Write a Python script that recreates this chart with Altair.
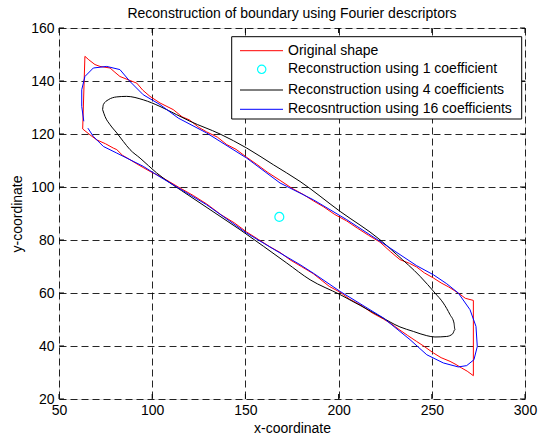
import altair as alt
import pandas as pd

title_text = "Reconstruction of boundary using Fourier descriptors"
x_title = "x-coordinate"
y_title = "y-coordinate"
x_ticks = [50, 100, 150, 200, 250, 300]
y_ticks = [20, 40, 60, 80, 100, 120, 140, 160]
legend_labels = [
    "Original shape",
    "Reconstruction using 1 coefficient",
    "Reconstruction using 4 coefficients",
    "Recosntruction using 16 coefficients",
]

# Original shape (red)
orig_x = [63.9, 66.0, 69.3, 72.0, 77.4, 80.0, 82.7, 87.0, 91.7, 95.0, 98.8, 104.2, 111.3, 116.0,
          120.0, 125.0, 129.2, 135.0, 140.0, 145.0, 150.7, 156.0, 162.0, 168.6, 175.0, 181.0,
          186.4, 192.0, 198.0, 204.3, 210.0, 216.0, 222.2, 228.0, 232.9, 238.0, 241.9, 246.0,
          250.8, 255.0, 259.0, 264.2, 268.0, 272.3, 272.3, 269.0, 266.0, 263.0, 259.8, 255.0,
          250.8, 246.0, 241.9, 237.0, 232.9, 228.0, 224.0, 218.0, 212.0, 206.0, 200.8, 195.0,
          190.0, 186.4, 180.0, 174.0, 168.6, 163.0, 157.0, 150.7, 144.0, 137.0, 129.2, 122.0,
          114.0, 108.0, 104.2, 98.8, 93.0, 88.1, 84.0, 81.0, 79.1, 75.0, 70.2, 66.6, 62.7, 63.9]
orig_y = [149.3, 148.0, 146.2, 145.5, 144.9, 143.3, 141.7, 140.5, 139.2, 136.5, 134.2, 131.7,
          129.2, 126.5, 125.3, 122.5, 120.8, 118.8, 116.0, 114.2, 111.2, 108.6, 105.5, 102.5,
          99.5, 97.2, 94.8, 92.5, 89.6, 87.2, 84.5, 81.8, 79.2, 75.5, 72.6, 71.2, 69.8, 67.6,
          65.7, 63.8, 62.3, 60.0, 58.0, 57.2, 28.8, 30.5, 31.7, 33.0, 34.2, 35.6, 37.4, 39.8,
          41.7, 44.0, 46.0, 48.5, 50.2, 52.5, 55.4, 57.6, 60.3, 62.5, 65.3, 67.3, 70.0, 72.5,
          75.3, 77.5, 80.2, 83.0, 86.5, 89.5, 93.6, 96.8, 100.0, 102.5, 104.0, 105.9, 108.2,
          110.3, 112.0, 114.1, 114.7, 116.3, 117.8, 119.7, 121.9, 149.3]

# Reconstruction using 1 coefficient (cyan point)
c1_x = [168.2]
c1_y = [88.7]

# Reconstruction using 4 coefficients (black)
c4_x = [73.4, 73.8, 76.4, 81.0, 86.3, 95.2, 104.2, 113.1, 120.3, 136.4, 150.7, 165.0, 179.3,
        200.8, 222.2, 231.2, 243.7, 251.7, 256.2, 259.8, 261.9, 262.4, 261.2, 258.0, 251.7,
        247.3, 240.1, 232.9, 222.2, 200.8, 184.7, 172.2, 147.1, 120.3, 102.4, 93.5, 88.1,
        84.5, 81.0, 77.4, 74.7, 73.4]
c4_y = [129.2, 131.1, 132.9, 134.0, 134.2, 132.9, 130.4, 127.3, 124.8, 120.0, 114.7, 108.4,
        102.1, 90.8, 80.1, 74.5, 66.3, 60.0, 56.2, 51.8, 48.7, 46.2, 44.6, 43.6, 43.4, 43.9,
        45.5, 47.2, 51.2, 59.4, 65.0, 71.3, 83.9, 96.5, 105.3, 110.9, 114.1, 117.2, 120.4,
        123.5, 126.6, 129.2]

# Reconstruction using 16 coefficients (blue)
c16_x = [65.5, 68.4, 73.8, 81.0, 95.2, 104.2, 129.2, 150.7, 168.6, 179.3, 186.4, 200.8, 224.0,
         238.3, 247.3, 256.2, 264.2, 268.7, 272.6, 274.4, 273.7, 270.5, 264.2, 258.0, 250.8,
         241.9, 222.2, 204.3, 186.4, 168.6, 150.7, 129.2, 114.0, 104.2, 95.2, 88.1, 82.7,
         75.6, 68.4, 63.9, 62.2, 62.2, 63.3]
c16_y = [122.2, 119.1, 115.3, 112.8, 107.8, 103.8, 93.3, 82.6, 75.1, 70.7, 67.5, 60.6, 50.6,
         42.4, 36.7, 33.6, 32.1, 32.6, 34.8, 39.8, 47.4, 53.7, 60.0, 63.5, 66.9, 70.3, 79.5,
         87.7, 95.2, 101.5, 110.9, 120.4, 126.0, 131.1, 134.8, 139.8, 144.3, 145.5, 144.9,
         141.7, 136.7, 130.4, 124.8]

W, H = 466, 371
FONT = "Liberation Sans"
FS = 14

xscale = alt.Scale(domain=[50, 300], nice=False, zero=False)
yscale = alt.Scale(domain=[20, 160], nice=False, zero=False)
xaxis = alt.Axis(values=x_ticks, grid=True, gridColor="#000000", gridDash=[7, 4], gridWidth=1,
                 gridOpacity=0.85, ticks=False, domain=False, labelFontSize=FS, labelFont=FONT,
                 labelColor="#000000", labelPadding=4, titleFontSize=FS, titleFont=FONT,
                 titleFontWeight="normal", titleColor="#000000", titlePadding=4, labelFlush=False)
yaxis = alt.Axis(values=y_ticks, grid=True, gridColor="#000000", gridDash=[7, 4], gridWidth=1,
                 gridOpacity=0.85, ticks=False, domain=False, labelFontSize=FS, labelFont=FONT,
                 labelColor="#000000", labelPadding=5, titleFontSize=FS, titleFont=FONT,
                 titleFontWeight="normal", titleColor="#000000", titlePadding=6, labelFlush=False)


def X(field):
    return alt.X(field, scale=xscale, axis=xaxis, title=x_title)


def Y(field):
    return alt.Y(field, scale=yscale, axis=yaxis, title=y_title)


def path_df(xs, ys):
    return pd.DataFrame({"x": xs, "y": ys, "i": list(range(len(xs)))})


red = alt.Chart(path_df(orig_x, orig_y)).mark_line(color="#ff0000", strokeWidth=1).encode(
    x=X("x:Q"), y=Y("y:Q"), order="i:Q")
cyan = alt.Chart(path_df(c1_x, c1_y)).mark_point(
    shape="circle", color="#00ffff", size=80, strokeWidth=1.2, filled=False, opacity=1).encode(
    x=X("x:Q"), y=Y("y:Q"))
black = alt.Chart(path_df(c4_x, c4_y)).mark_line(
    color="#000000", strokeWidth=1, interpolate="monotone").encode(
    x=X("x:Q"), y=Y("y:Q"), order="i:Q")
blue = alt.Chart(path_df(c16_x, c16_y)).mark_line(color="#0000ff", strokeWidth=1).encode(
    x=X("x:Q"), y=Y("y:Q"), order="i:Q")

xt = pd.DataFrame({"v": x_ticks})
yt = pd.DataFrame({"v": y_ticks})
tick_b = alt.Chart(xt).mark_rule(color="#000000").encode(x=X("v:Q"), y=alt.value(H), y2=alt.value(H - 5))
tick_t = alt.Chart(xt).mark_rule(color="#000000").encode(x=X("v:Q"), y=alt.value(0), y2=alt.value(5))
tick_l = alt.Chart(yt).mark_rule(color="#000000").encode(y=Y("v:Q"), x=alt.value(0), x2=alt.value(5))
tick_r = alt.Chart(yt).mark_rule(color="#000000").encode(y=Y("v:Q"), x=alt.value(W), x2=alt.value(W - 5))

one = alt.Data(values=[{"a": 1}])
leg_box = alt.Chart(one).mark_rect(fill="#ffffff", stroke="#000000", strokeWidth=1).encode(
    x=alt.value(172.7), x2=alt.value(462.7), y=alt.value(8.7), y2=alt.value(91))
rows_y = [22.7, 41.3, 62.0, 81.3]
leg_line_colors = ["#ff0000", None, "#000000", "#0000ff"]
leg_layers = [leg_box]
for k in range(4):
    c = leg_line_colors[k]
    if c is not None:
        leg_layers.append(alt.Chart(one).mark_rule(color=c, strokeWidth=1).encode(
            x=alt.value(181), x2=alt.value(224), y=alt.value(rows_y[k])))
    else:
        leg_layers.append(alt.Chart(one).mark_point(
            shape="circle", color="#00ffff", size=70, strokeWidth=1.2, filled=False, opacity=1).encode(
            x=alt.value(202.7), y=alt.value(rows_y[k])))
    leg_layers.append(alt.Chart(one).mark_text(
        align="left", baseline="middle", font=FONT, fontSize=FS, color="#000000").encode(
        x=alt.value(229), y=alt.value(rows_y[k]), text=alt.value(legend_labels[k])))

chart = alt.layer(red, cyan, black, blue, tick_b, tick_t, tick_l, tick_r, *leg_layers).properties(
    width=W, height=H,
    title=alt.TitleParams(title_text, font=FONT, fontSize=FS, fontWeight="normal",
                          color="#000000", anchor="middle", offset=0),
    autosize=alt.AutoSizeParams(type="none"),
    padding={"left": 59, "top": 28, "right": 15, "bottom": 38},
).configure_view(stroke="#000000", strokeWidth=1).configure(background="#ffffff")

chart.save("out.html", embed_options={"renderer": "svg", "actions": False})
